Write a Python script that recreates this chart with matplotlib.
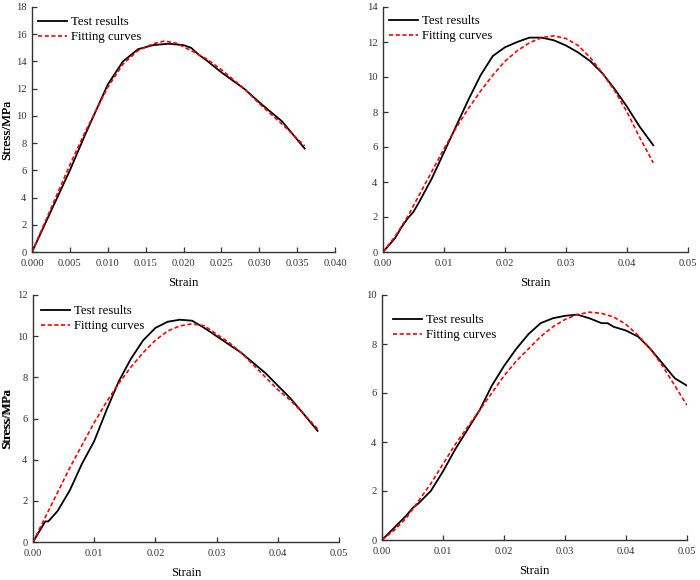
import numpy as np
import matplotlib.pyplot as plt

plt.rcParams['font.family'] = ['Liberation Serif', 'DejaVu Serif']

# (a)
a_test_x = [0, 0.005, 0.007, 0.010, 0.012, 0.014, 0.016, 0.018, 0.020, 0.021, 0.022, 0.023, 0.025, 0.028, 0.030, 0.033, 0.036]
a_test_y = [0, 6.0, 8.6, 12.3, 14.0, 14.9, 15.2, 15.3, 15.2, 15.0, 14.5, 14.1, 13.2, 12.0, 11.0, 9.6, 7.6]
a_fit_x = [0, 0.005, 0.007, 0.010, 0.012, 0.014, 0.016, 0.0175, 0.019, 0.021, 0.023, 0.025, 0.028, 0.030, 0.033, 0.036]
a_fit_y = [0, 6.4, 8.8, 12.1, 13.8, 14.8, 15.3, 15.5, 15.35, 14.8, 14.2, 13.4, 12.0, 10.9, 9.4, 7.8]

# (b)
b_test_x = [0, 0.001, 0.002, 0.003, 0.004, 0.005, 0.006, 0.008, 0.010, 0.012, 0.014, 0.016, 0.018, 0.020, 0.022, 0.024, 0.026,
            0.028, 0.030, 0.032, 0.034, 0.036, 0.038, 0.040, 0.042, 0.0443]
b_test_y = [0, 0.4, 0.8, 1.4, 1.9, 2.3, 2.9, 4.2, 5.7, 7.2, 8.7, 10.1, 11.2, 11.7, 12.0, 12.25, 12.25,
            12.1, 11.8, 11.4, 10.9, 10.2, 9.3, 8.3, 7.2, 6.1]
b_fit_x = [0, 0.002, 0.004, 0.006, 0.008, 0.010, 0.012, 0.014, 0.016, 0.018, 0.020, 0.022, 0.024, 0.026, 0.028,
           0.030, 0.032, 0.034, 0.036, 0.038, 0.040, 0.042, 0.0443]
b_fit_y = [0, 0.9, 2.0, 3.3, 4.6, 5.9, 7.1, 8.2, 9.2, 10.1, 10.9, 11.5, 11.95, 12.25, 12.35,
           12.2, 11.8, 11.1, 10.2, 9.2, 8.0, 6.6, 5.1]

# (c)
c_test_x = [0, 0.001, 0.002, 0.0025, 0.004, 0.006, 0.008, 0.010, 0.012, 0.014, 0.016, 0.018, 0.020, 0.022, 0.024, 0.026,
            0.028, 0.030, 0.032, 0.034, 0.036, 0.038, 0.040, 0.042, 0.044, 0.0465]
c_test_y = [0, 0.5, 1.0, 1.0, 1.5, 2.5, 3.8, 4.9, 6.4, 7.8, 8.9, 9.8, 10.4, 10.7, 10.8, 10.75,
            10.4, 10.0, 9.6, 9.2, 8.7, 8.2, 7.6, 7.0, 6.3, 5.4]
c_fit_x = [0, 0.002, 0.004, 0.006, 0.008, 0.010, 0.012, 0.014, 0.016, 0.018, 0.020, 0.022, 0.024, 0.026,
           0.028, 0.030, 0.032, 0.034, 0.036, 0.038, 0.040, 0.042, 0.044, 0.0465]
c_fit_y = [0, 1.2, 2.4, 3.6, 4.7, 5.8, 6.8, 7.7, 8.5, 9.2, 9.8, 10.25, 10.5, 10.6,
           10.5, 10.1, 9.7, 9.2, 8.6, 8.0, 7.4, 6.9, 6.3, 5.5]

# (d)
d_test_x = [0, 0.002, 0.004, 0.005, 0.006, 0.008, 0.010, 0.012, 0.014, 0.016, 0.018, 0.020, 0.022, 0.024, 0.026, 0.028,
            0.030, 0.032, 0.034, 0.036, 0.037, 0.038, 0.040, 0.042, 0.044, 0.046, 0.048, 0.050]
d_test_y = [0, 0.5, 1.0, 1.3, 1.5, 2.0, 2.8, 3.7, 4.5, 5.3, 6.3, 7.1, 7.8, 8.4, 8.85, 9.05,
            9.15, 9.2, 9.05, 8.85, 8.85, 8.7, 8.55, 8.3, 7.8, 7.2, 6.6, 6.3]
d_fit_x = [0, 0.002, 0.004, 0.006, 0.008, 0.010, 0.012, 0.014, 0.016, 0.018, 0.020, 0.022, 0.024, 0.026,
           0.028, 0.030, 0.032, 0.034, 0.036, 0.038, 0.040, 0.042, 0.044, 0.046, 0.048, 0.050]
d_fit_y = [0, 0.4, 0.9, 1.6, 2.3, 3.1, 3.9, 4.6, 5.3, 6.0, 6.7, 7.3, 7.8, 8.3,
           8.7, 9.0, 9.2, 9.3, 9.25, 9.1, 8.8, 8.35, 7.8, 7.1, 6.3, 5.5]

panels = [
    (a_test_x, a_test_y, a_fit_x, a_fit_y, np.arange(0, 0.0401, 0.005), '%.3f', 18),
    (b_test_x, b_test_y, b_fit_x, b_fit_y, np.arange(0, 0.0501, 0.01), '%.2f', 14),
    (c_test_x, c_test_y, c_fit_x, c_fit_y, np.arange(0, 0.0501, 0.01), '%.2f', 12),
    (d_test_x, d_test_y, d_fit_x, d_fit_y, np.arange(0, 0.0501, 0.01), '%.2f', 10),
]
# pixel boxes: left, right, top, bottom
boxes = [(32, 335, 7, 252), (383, 688, 7, 252), (33, 339, 295, 542), (382, 687, 295, 540)]
# legend top-left corner, pixels
leg_pos = [(38, 16), (389, 15), (41, 305), (393, 314)]

W, H = 700, 580
fig = plt.figure(figsize=(7, 5.8), dpi=100)

for (tx, ty, fx, fy, xt, fmt, ymax), (l, r, t, b), (lx, ly) in zip(panels, boxes, leg_pos):
    ax = fig.add_axes([l / W, (H - b) / H, (r - l) / W, (b - t) / H])
    ax.plot(tx, ty, color='black', lw=1.3, label='Test results')
    ax.plot(fx, fy, color='red', lw=1.2, ls=(0, (2.5, 1.5)), label='Fitting curves')
    ax.set_xlim(0, xt[-1])
    ax.set_ylim(0, ymax)
    ax.set_xticks(xt)
    ax.set_xticklabels([fmt % v for v in xt])
    ax.set_yticks(np.arange(0, ymax + 0.1, 2))
    ax.spines['top'].set_visible(False)
    ax.spines['right'].set_visible(False)
    for s in ('left', 'bottom'):
        ax.spines[s].set_linewidth(1.0)
        ax.spines[s].set_color('#333333')
    ax.tick_params(direction='in', length=3.5, width=0.9, labelsize=7.6, colors='#333333')
    ax.tick_params(axis='x', pad=5)
    ax.tick_params(axis='y', pad=4)
    ax.set_xlabel('Strain', fontsize=9.2)
    ax.set_ylabel('Stress/MPa', fontsize=9.5)
    ax.xaxis.set_label_coords(0.5, -25 / (b - t))
    ax.yaxis.set_label_coords(-(l - 13) / (r - l), 0.5)
    ax.legend(loc='upper left', bbox_to_anchor=(lx / W, 1 - ly / H), bbox_transform=fig.transFigure,
              frameon=False, fontsize=9.2, handlelength=2.3, handletextpad=0.3,
              labelspacing=0.25, borderaxespad=0, borderpad=0)

fig.savefig('out.png', dpi=100)
